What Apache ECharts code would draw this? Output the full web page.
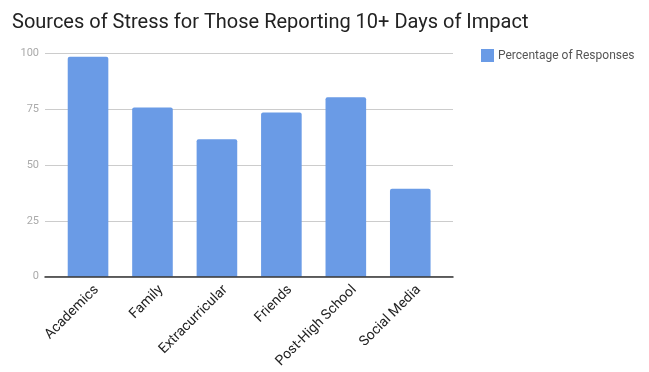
<!DOCTYPE html>
<html><head><meta charset="utf-8">
<script src="https://cdn.jsdelivr.net/npm/echarts@6/dist/echarts.min.js"></script>
<style>html,body{margin:0;padding:0;background:#fff}#c{width:649px;height:372px}</style>
</head><body><div id="c"></div>
<script>
const categories = ["Academics","Family","Extracurricular","Friends","Post-High School","Social Media"];
const values = [98.5, 75.7, 61.5, 73.5, 80.3, 39.4];
const yTicks = [0, 25, 50, 75, 100];
const seriesName = "Percentage of Responses";
const titleText = "Sources of Stress for Those Reporting 10+ Days of Impact";

const yMin = yTicks[0], yMax = yTicks[yTicks.length-1];
const chart = echarts.init(document.getElementById('c'), null, {renderer:'canvas'});
chart.setOption({
  animation:false,
  textStyle:{fontFamily:'Roboto'},
  title:{text:titleText,left:7,top:8,textStyle:{fontFamily:'Roboto',fontSize:20,fontWeight:'normal',color:'#222'}},
  legend:{data:[seriesName],left:476,top:44,orient:'vertical',itemWidth:13,itemHeight:13,itemGap:8,icon:'rect',
    textStyle:{fontFamily:'Roboto',fontSize:12,color:'#555',padding:[0,0,0,-1]}},
  grid:[
    {left:45,top:53.3,width:408,height:223.4,containLabel:false},
    {left:55.8,top:53.3,width:386.7,height:223.4,containLabel:false},
    {left:64.3,top:53.3,width:386.7,height:223.4,containLabel:false}
  ],
  xAxis:[
    {type:'category',gridIndex:0,data:categories,
      axisLine:{lineStyle:{color:'#333',width:1.5}},axisTick:{show:false},axisLabel:{show:false},z:5},
    {type:'category',gridIndex:1,data:categories,
      axisLine:{show:false},axisTick:{show:false},axisLabel:{show:false}},
    {type:'category',gridIndex:2,data:categories,
      axisLine:{show:false},axisTick:{show:false},
      axisLabel:{rotate:45,fontSize:14,color:'#222',fontFamily:'Roboto',margin:11,interval:0}}
  ],
  yAxis:[
    {type:'value',gridIndex:0,min:yMin,max:yMax,interval:25,
      axisLine:{show:false},axisTick:{show:false},
      axisLabel:{fontSize:11,color:'#aaa',margin:6,fontFamily:'Roboto'},
      splitLine:{lineStyle:{color:'#ccc',width:1}}},
    {type:'value',gridIndex:1,min:yMin,max:yMax,interval:25,show:false,splitLine:{show:false}},
    {type:'value',gridIndex:2,min:yMin,max:yMax,interval:25,show:false,splitLine:{show:false}}
  ],
  series:[{name:seriesName,type:'bar',xAxisIndex:1,yAxisIndex:1,data:values,barWidth:'63%',
    itemStyle:{color:'#6a9be6',borderRadius:[2,2,0,0]}}]
});
</script></body></html>
